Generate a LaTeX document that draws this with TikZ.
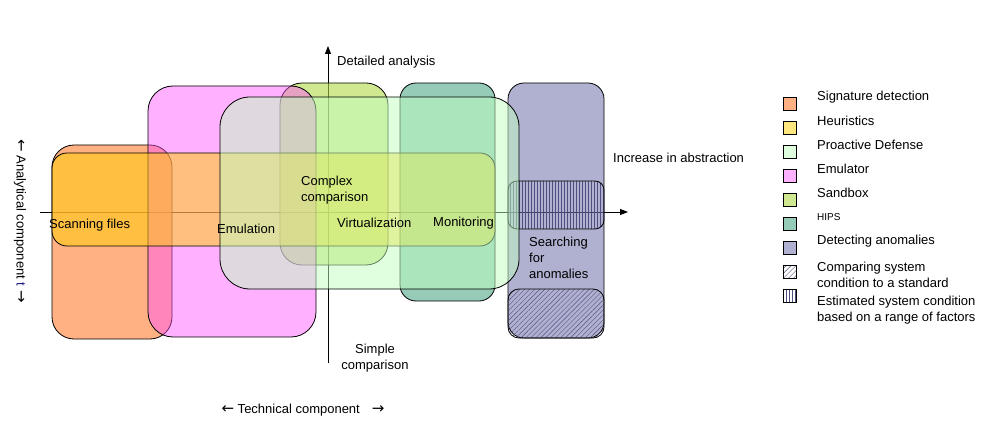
\documentclass[tikz,border=0pt]{standalone}
\usepackage{fontspec}
\setmainfont{Liberation Sans}
\newfontfamily\arrfont{DejaVu Sans}
\usetikzlibrary{patterns.meta,arrows.meta}
\definecolor{sigc}{HTML}{FF9050}
\definecolor{heurc}{HTML}{FFD000}
\definecolor{proc}{HTML}{C0FFC0}
\definecolor{emuc}{HTML}{FF50FF}
\definecolor{sandc}{HTML}{B1D946}
\definecolor{hipsc}{HTML}{50A888}
\definecolor{detc}{HTML}{7070AA}
\definecolor{hatchc}{HTML}{505080}
\definecolor{tblue}{HTML}{202080}
\tikzset{
  lbl/.style={font=\fontsize{13}{16}\selectfont, inner sep=0pt},
  area/.style={draw=black, line width=0.8pt},
  legbox/.style={draw=black, line width=0.7pt, minimum size=13pt, inner sep=0pt},
  axisline/.style={draw=black, line width=0.9pt, -{Triangle[length=8pt,width=6pt]}},
  vhatch/.style={pattern={Lines[angle=90,distance=3pt,line width=0.4pt]}, pattern color=hatchc},
  dhatch/.style={pattern={Lines[angle=45,distance=3.5pt,line width=0.4pt]}, pattern color=hatchc},
  arr/.style={font=\arrfont\fontsize{15}{16}\selectfont},
}
\newcommand{\myarr}[1]{{\arrfont\fontsize{15}{16}\selectfont #1}}
\begin{document}
\begin{tikzpicture}[x=1pt,y=-1pt]
\useasboundingbox (0,0) rectangle (992,438);
% axes
\coordinate (hl) at (40,212);
\coordinate (hr) at (628,212);
\coordinate (vb) at (328,363);
\coordinate (vt) at (328,46);
\draw[axisline] (hl) -- (hr);
\draw[axisline] (vb) -- (vt);
% areas
\draw[area, fill=sigc, fill opacity=.7, rounded corners=22pt] (52,145) rectangle (172,339);
\draw[area, fill=sandc, fill opacity=.6, rounded corners=22pt] (280,83) rectangle (388,265);
\draw[area, fill=hipsc, fill opacity=.6, rounded corners=16pt] (400,83) rectangle (495,301);
\draw[area, fill=detc, fill opacity=.55, rounded corners=16pt] (508,83) rectangle (604,338);
\draw[area, vhatch, rounded corners=9pt] (508,181) rectangle (604,229);
\draw[area, dhatch, rounded corners=11pt] (508,289) rectangle (604,338);
\draw[area, fill=emuc, fill opacity=.45, rounded corners=25pt] (148,86) rectangle (316,337);
\draw[area, fill=heurc, fill opacity=.5, rounded corners=15pt] (52,153) rectangle (495,246);
\draw[area, fill=proc, fill opacity=.5, rounded corners=30pt] (220,97) rectangle (519,289);
% labels
\node[lbl, anchor=west] (detailed) at (337,62) {Detailed analysis};
\node[lbl, anchor=west] (incr) at (613,158) {Increase in abstraction};
\node[lbl, align=center] (simple) at (375,358) {Simple\\comparison};
\node[lbl, anchor=west] (scan) at (49,225) {Scanning files};
\node[lbl, anchor=west] (emul) at (217,229) {Emulation};
\node[lbl, anchor=west, align=left] (complex) at (301,190) {Complex\\comparison};
\node[lbl, anchor=west] (virt) at (337,223) {Virtualization};
\node[lbl, anchor=west] (monit) at (433,223) {Monitoring};
\node[lbl, anchor=west, align=left] (search) at (529,258) {Searching\\for\\anomalies};
\node[lbl, rotate=-90] (analyt) at (20,221) {\myarr{←} Analytical component {\color{tblue}t} \myarr{→}};
\node[lbl] (tech) at (303,410) {\myarr{←} Technical component\hspace{12pt}\myarr{→}};
% legend
\node[legbox, fill=sigc, fill opacity=.7] (lsig) at (789.5,103.5) {};
\node[legbox, fill=heurc, fill opacity=.5] (lheur) at (789.5,127.5) {};
\node[legbox, fill=proc, fill opacity=.5] (lpro) at (789.5,151.5) {};
\node[legbox, fill=emuc, fill opacity=.45] (lemu) at (789.5,175.5) {};
\node[legbox, fill=sandc, fill opacity=.6] (lsand) at (789.5,199.5) {};
\node[legbox, fill=hipsc, fill opacity=.6] (lhips) at (789.5,223.5) {};
\node[legbox, fill=detc, fill opacity=.55] (ldet) at (789.5,247.5) {};
\node[legbox, fill=detc!20, dhatch] (lcomp) at (789.5,271.5) {};
\node[legbox, vhatch] (lest) at (789.5,295.5) {};
\node[lbl, anchor=west] (tsig) at (817,97) {Signature detection};
\node[lbl, anchor=west] (theur) at (817,121) {Heuristics};
\node[lbl, anchor=west] (tpro) at (817,145) {Proactive Defense};
\node[lbl, anchor=west] (temu) at (817,169) {Emulator};
\node[lbl, anchor=west] (tsand) at (817,193) {Sandbox};
\node[lbl, anchor=west, font=\fontsize{10}{12}\selectfont] (thips) at (817,217) {HIPS};
\node[lbl, anchor=west] (tdet) at (817,241) {Detecting anomalies};
\node[lbl, anchor=west, align=left] (tcomp) at (817,274.5) {Comparing system\\condition to a standard};
\node[lbl, anchor=west, align=left] (test) at (817,310) {Estimated system condition\\based on a range of factors};
\end{tikzpicture}
\end{document}
